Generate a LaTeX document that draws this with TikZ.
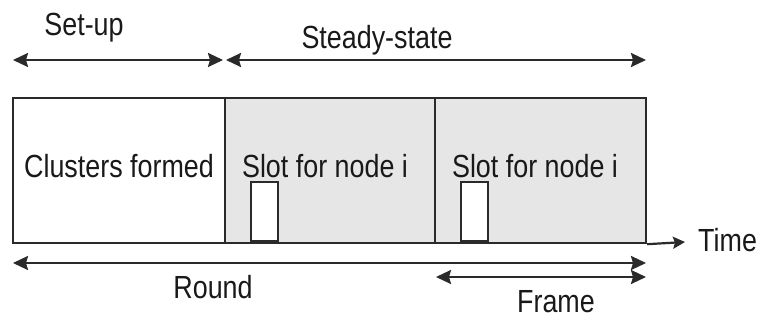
\documentclass[tikz,border=0pt]{standalone}
\usepackage{fontspec}
\setmainfont{Liberation Sans}
\usetikzlibrary{arrows.meta}
\definecolor{ln}{HTML}{2A2A2A}
\definecolor{shade}{HTML}{E6E6E6}
\tikzset{
  lbl/.style={font=\fontsize{32}{38}\selectfont, inner sep=0pt, text=black!90},
  seg/.style={draw=ln, line width=2.2pt, minimum height=145pt, inner sep=0pt, anchor=north west},
  slotbox/.style={draw=ln, line width=1.8pt, fill=white, minimum width=27pt, minimum height=59pt, inner sep=0pt, anchor=south west},
  dim/.style={draw=ln, line width=2.2pt, {Stealth[length=15pt,width=14pt,inset=2pt]}-{Stealth[length=15pt,width=14pt,inset=2pt]}},
  tarr/.style={draw=ln, line width=2.2pt, -{Stealth[length=12pt,width=12pt,inset=2pt]}}
}
\newcommand{\nar}[1]{\scalebox{0.84}[1]{#1}}
\begin{document}
\begin{tikzpicture}[x=1pt,y=-1pt]
\useasboundingbox (0,0) rectangle (767,320);
% segments
\node[seg, fill=white, minimum width=212pt] (setup) at (12,97) {};
\node[seg, fill=shade, minimum width=210pt] (f1) at (224,97) {};
\node[seg, fill=shade, minimum width=211pt] (f2) at (434,97) {};
% slots
\node[slotbox] (s1) at (250,242) {};
\node[slotbox] (s2) at (460,242) {};
% texts in boxes
\node[lbl] (tc) at (119,166) {\nar{Clusters formed}};
\node[lbl] (ts1) at (325,166) {\nar{Slot for node i}};
\node[lbl] (ts2) at (535,166) {\nar{Slot for node i}};
% time axis
\coordinate (tend) at (685,242);
\draw[tarr] (f2.south east) -- (tend);
\node[lbl, anchor=west] (time) at (698,240) {\nar{Time}};
% top arrows
\coordinate (a0) at (13,60);
\coordinate (a1) at (223,60);
\coordinate (a2) at (226,60);
\coordinate (a3) at (646,60);
\draw[dim] (a0) -- (a1);
\draw[dim] (a2) -- (a3);
\node[lbl] (tsetup) at (84,28) {\nar{Set-up}};
\node[lbl] (tsteady) at (377,40) {\nar{Steady-state}};
% bottom arrows
\coordinate (r0) at (13,263);
\coordinate (r1) at (646,263);
\draw[dim] (r0) -- (r1);
\node[lbl] (tround) at (213,287) {\nar{Round}};
\coordinate (fr0) at (436,277);
\coordinate (fr1) at (646,277);
\draw[dim] (fr0) -- (fr1);
\node[lbl] (tframe) at (556,302) {\nar{Frame}};
\end{tikzpicture}
\end{document}
